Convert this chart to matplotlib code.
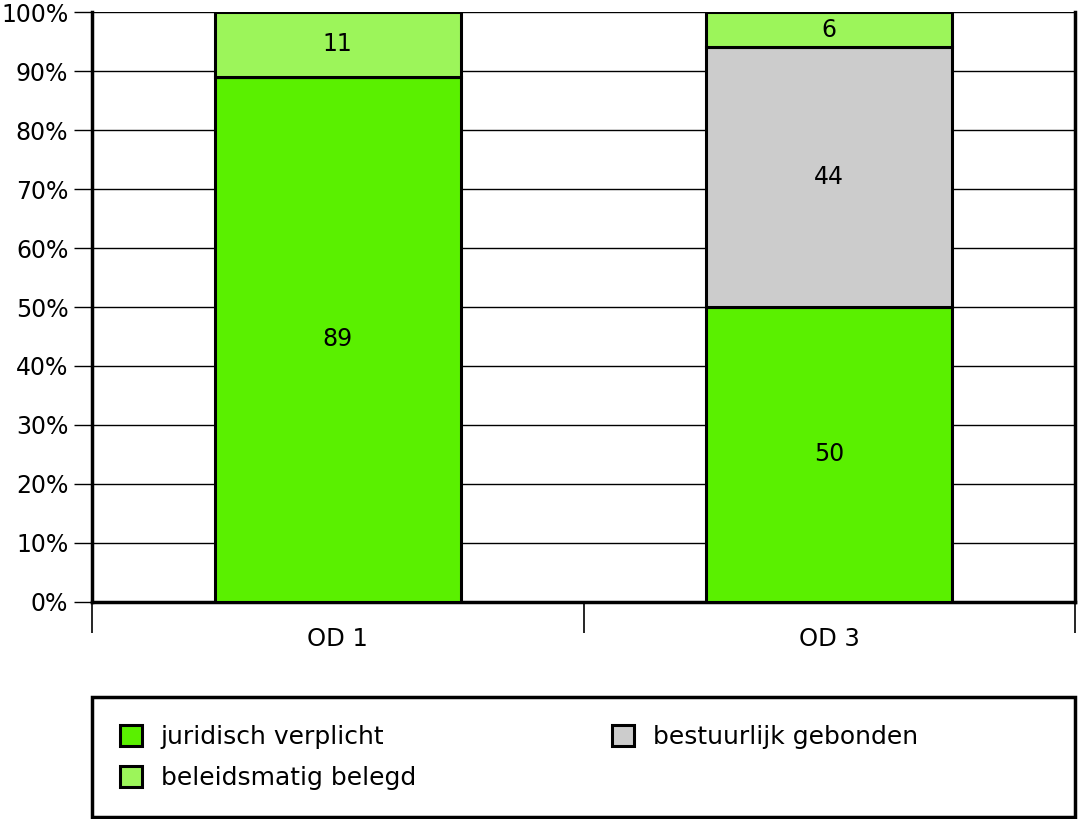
import matplotlib.pyplot as plt
from matplotlib.patches import Rectangle
from matplotlib.ticker import FixedLocator, PercentFormatter

plt.rcParams['font.family'] = ['DejaVu Sans']

categories = ['OD 1', 'OD 3']
juridisch = [89, 50]
bestuurlijk = [0, 44]
beleid = [11, 6]

series = [
    ('juridisch verplicht', juridisch, '#5af000'),
    ('bestuurlijk gebonden', bestuurlijk, '#cccccc'),
    ('beleidsmatig belegd', beleid, '#9cf55a'),
]

fig = plt.figure(figsize=(10.78, 8.19), dpi=100)
ax = fig.add_axes([0.0853, 0.265, 0.912, 0.7203])

x = list(range(len(categories)))
bottom = [0] * len(categories)
handles = {}
for name, vals, col in series:
    bars = ax.bar(x, vals, 0.5, bottom=bottom, color=col, edgecolor='black',
                  linewidth=2.2, zorder=3, label=name)
    handles[name] = bars
    for xi, v, b in zip(x, vals, bottom):
        if v > 0:
            ax.text(xi, b + v / 2, str(v), ha='center', va='center', fontsize=17, zorder=4)
    bottom = [b + v for b, v in zip(bottom, vals)]

ax.set_xlim(-0.5, 1.5)
ax.set_ylim(0, 100)
ax.set_yticks(range(0, 101, 10))
ax.yaxis.set_major_formatter(PercentFormatter(decimals=0))
ax.grid(axis='y', color='black', linewidth=1, zorder=0)
ax.tick_params(axis='y', length=13, width=1, labelsize=17, pad=4)

ax.xaxis.set_major_locator(FixedLocator([-0.5, 0.5, 1.5]))
ax.xaxis.set_minor_locator(FixedLocator(x))
ax.set_xticklabels([], minor=False)
ax.set_xticklabels(categories, minor=True)
ax.tick_params(axis='x', which='major', length=22, width=1.2, direction='out')
ax.tick_params(axis='x', which='minor', length=0, labelsize=17.5, pad=18)

ax.spines['top'].set_visible(False)
for s in ['left', 'bottom', 'right']:
    ax.spines[s].set_linewidth(2.5)

# legend box
fig.add_artist(Rectangle((0.0853, 0.0030), 0.912, 0.1459, transform=fig.transFigure,
                         facecolor='white', edgecolor='black', linewidth=2.5))

order = ['juridisch verplicht', 'beleidsmatig belegd', 'bestuurlijk gebonden']
leg = fig.legend([handles[n] for n in order], order, ncol=2, loc='upper left',
                 bbox_to_anchor=(120 / 1078, 1 - 725 / 819),
                 fontsize=18, frameon=False,
                 handlelength=0.88, handleheight=0.88, handletextpad=0.75,
                 borderaxespad=0, borderpad=0, labelspacing=0.68, columnspacing=7.85)

fig.savefig('out.png', dpi=100)
